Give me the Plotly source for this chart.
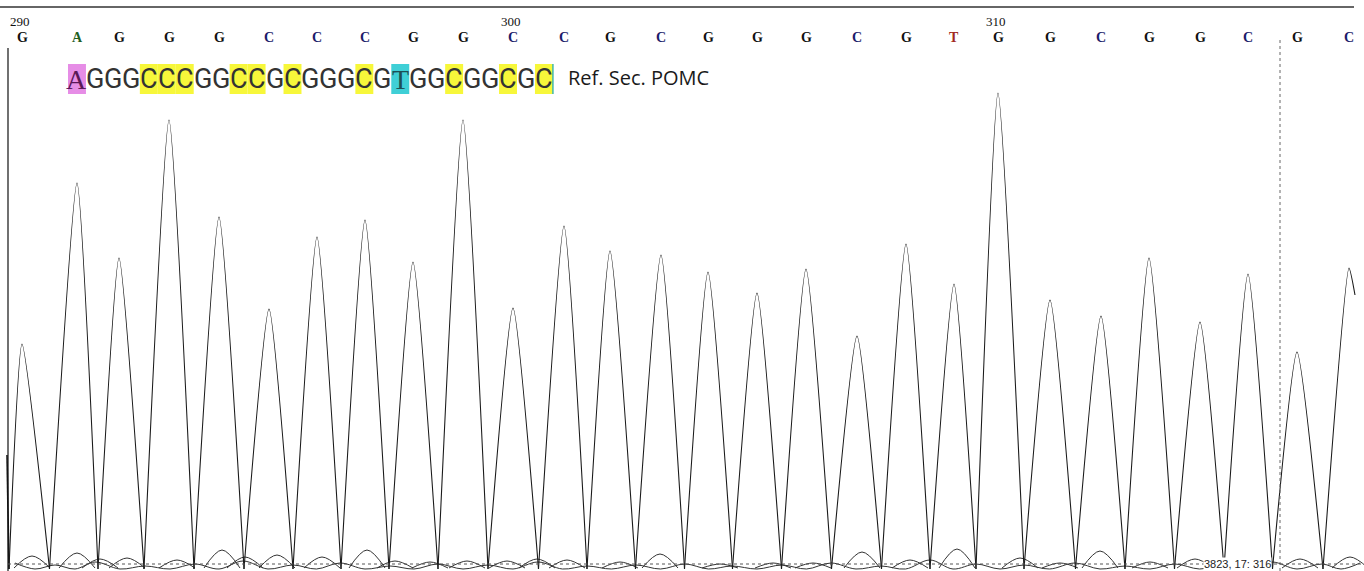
import plotly.graph_objects as go

W, H = 1364, 571
BASE_PX = 569  # pixel row of zero signal

# ---- data ----
base_calls = list("GAGGGCCCGGCCGCGGGCGTGGCGGCGC")
peak_scan = [22, 77, 119, 169, 219, 269, 317, 365, 413, 463, 513, 564, 610, 661,
             708, 757, 806, 857, 906, 954, 998, 1050, 1101, 1149, 1200, 1248, 1297, 1349]
peak_signal = [225, 386, 311, 449, 352, 260, 332, 349, 307, 449, 261, 343, 318, 314,
               297, 276, 300, 233, 325, 285, 476, 269, 253, 311, 247, 295, 217, 301]
trace_start = (7, 114)
trace_end = (1355, 274)

pos_label_index = [0, 10, 20]
pos_label_text = ["290", "300", "310"]

# secondary (background) signal bumps
noise_scan = [32, 77, 100, 127, 177, 222, 245, 277, 322, 367, 395, 430, 467, 507, 537, 567,
              620, 660, 720, 773, 813, 862, 910, 957, 1020, 1060, 1100, 1150, 1195, 1245, 1300, 1350]
noise_signal = [13, 16, 10, 11, 9, 19, 12, 14, 12, 19, 8, 7, 8, 8, 10, 9,
                7, 15, 5, 6, 6, 17, 9, 20, 11, 6, 18, 7, 10, 8, 10, 12]
noise2_scan = [15, 55, 95, 145, 195, 243, 293, 340, 390, 438, 488, 538, 587, 636, 685, 732,
               782, 831, 881, 930, 976, 1024, 1075, 1125, 1175, 1224, 1272, 1322, 1360]
noise2_signal = [6, 4, 7, 3, 5, 8, 4, 6, 3, 5, 4, 7, 3, 4, 5, 3,
                 4, 6, 3, 9, 5, 4, 6, 3, 5, 4, 7, 5, 6]

ref_seq = "AGGGCCCGGCCGCGGGCGTGGCGGCGC"
ref_label = "Ref. Sec. POMC"
cursor_text = "3823, 17: 316"

# ---- styling ----
call_colors = {"G": "#111111", "A": "#1f5f1f", "C": "#1c1c6a", "T": "#a12a22"}
hl_colors = {"A": "#e68de6", "C": "#f7f73a", "T": "#3fcfd6"}
ref_text_colors = {"A": "#5a1858", "T": "#1d4f55", "G": "#333333", "C": "#333333"}


def pyp(py):
    """pixel row -> paper y"""
    return 1 - py / H


# main trace: each peak is valley -> apex -> valley, smoothed by plotly's spline
n = len(peak_scan)
valleys = [trace_start[0] + 2] + [(peak_scan[i] + peak_scan[i + 1]) / 2 for i in range(n - 1)]
xs, ys = [], []
for i in range(n):
    if i < n - 1:
        xs += [valleys[i], peak_scan[i], valleys[i + 1], None]
        ys += [0, peak_signal[i], 0, None]
    else:
        xs += [valleys[i], peak_scan[i], trace_end[0], None]
        ys += [0, peak_signal[i], trace_end[1], None]
lead_x = [trace_start[0], trace_start[0] + 2]
lead_y = [trace_start[1], 0]

# noise bumps
nx, ny = [], []
for c, h in zip(noise_scan, noise_signal):
    nx += [c - 18, c, c + 18, None]
    ny += [1, h, 1, None]
n2x, n2y = [], []
for i, (c, h) in enumerate(zip(noise2_scan, noise2_signal)):
    n2x.append(c); n2y.append(h)
    if i < len(noise2_scan) - 1:
        n2x.append((c + noise2_scan[i + 1]) / 2); n2y.append(0)

fig = go.Figure()
fig.add_trace(go.Scatter(x=n2x, y=n2y, mode="lines", line=dict(color="#333333", width=1, shape="spline"),
                         hoverinfo="skip"))
fig.add_trace(go.Scatter(x=nx, y=ny, mode="lines", line=dict(color="#333333", width=1, shape="spline"),
                         connectgaps=False, hoverinfo="skip"))
fig.add_trace(go.Scatter(x=lead_x, y=lead_y, mode="lines", line=dict(color="#1a1a1a", width=1.6),
                         hoverinfo="skip"))
fig.add_trace(go.Scatter(x=xs, y=ys, mode="lines", connectgaps=False,
                         line=dict(color="#1a1a1a", width=1.1, shape="spline", smoothing=0.55),
                         hoverinfo="skip"))

shapes = []
# top rule
shapes.append(dict(type="line", xref="x", yref="paper", x0=0, x1=1354, y0=pyp(7), y1=pyp(7),
                   line=dict(color="#333333", width=1.5)))
# left border
shapes.append(dict(type="line", xref="x", yref="paper", x0=8, x1=8, y0=pyp(48), y1=0,
                   line=dict(color="#111111", width=1.2)))
# dotted baseline
shapes.append(dict(type="line", xref="x", yref="paper", x0=8, x1=W, y0=pyp(564), y1=pyp(564),
                   line=dict(color="#555555", width=1, dash="dot")))
# dotted cursor
shapes.append(dict(type="line", xref="x", yref="paper", x0=1280, x1=1280, y0=pyp(40), y1=0,
                   line=dict(color="#666666", width=1, dash="dot")))

annotations = []
# base calls
for b, x in zip(base_calls, peak_scan):
    annotations.append(dict(x=x, y=pyp(37), xref="x", yref="paper", text="<b>%s</b>" % b,
                            xanchor="center", yanchor="middle", showarrow=False,
                            font=dict(family="Liberation Serif", size=14, color=call_colors[b])))
for idx, t in zip(pos_label_index, pos_label_text):
    annotations.append(dict(x=peak_scan[idx] - 2, y=pyp(22), xref="x", yref="paper", text=t,
                            xanchor="center", yanchor="middle", showarrow=False,
                            font=dict(family="Liberation Serif", size=13, color="#111111")))

# reference sequence with highlights
x0, cw = 68, 17.96
top, bot = 64, 94
for i, ch in enumerate(ref_seq):
    a, b2 = x0 + cw * i, x0 + cw * (i + 1)
    if ch in hl_colors:
        shapes.append(dict(type="rect", xref="x", yref="paper", x0=a, x1=b2, y0=pyp(bot), y1=pyp(top),
                           fillcolor=hl_colors[ch], line=dict(width=0), layer="below"))
    fam = "Liberation Serif" if ch in "AT" else "Roboto"
    size = 28 if ch in "AT" else 27
    annotations.append(dict(x=(a + b2) / 2, y=pyp(79), xref="x", yref="paper", text=ch,
                            xanchor="center", yanchor="middle", showarrow=False,
                            font=dict(family=fam, size=size, color=ref_text_colors[ch])))
end_x = x0 + cw * len(ref_seq)
shapes.append(dict(type="line", xref="x", yref="paper", x0=end_x, x1=end_x, y0=pyp(bot), y1=pyp(top),
                   line=dict(color="#3fb8a8", width=1.5)))
annotations.append(dict(x=566, y=pyp(78), xref="x", yref="paper", text=ref_label,
                        xanchor="left", yanchor="middle", showarrow=False,
                        font=dict(family="Open Sans", size=20, color="#1a1a1a")))
annotations.append(dict(x=1203, y=pyp(564), xref="x", yref="paper", text=cursor_text,
                        xanchor="left", yanchor="middle", showarrow=False, bgcolor="white", borderpad=0,
                        font=dict(family="Liberation Sans", size=11, color="#222222")))

fig.update_layout(
    width=W, height=H, margin=dict(l=0, r=0, t=0, b=0),
    paper_bgcolor="white", plot_bgcolor="white", showlegend=False,
    xaxis=dict(range=[0, W], visible=False, fixedrange=True),
    yaxis=dict(range=[BASE_PX - H, BASE_PX], visible=False, fixedrange=True),
    shapes=shapes, annotations=annotations,
)
fig.write_html("out.html", config={"displayModeBar": False},
               post_script="document.body.style.margin='0';document.body.style.overflow='hidden';")
